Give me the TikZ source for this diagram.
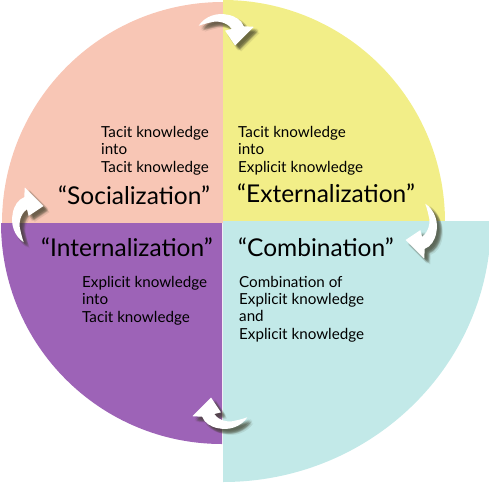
\documentclass[tikz,border=0pt]{standalone}
\usepackage{fontspec}
\setmainfont{Lato}

\definecolor{socialc}{RGB}{248,198,181}
\definecolor{externc}{RGB}{242,238,136}
\definecolor{combic}{RGB}{194,233,232}
\definecolor{internc}{RGB}{157,99,183}
\definecolor{shadowc}{RGB}{60,60,40}

% curved white arrow with a soft shadow: screen x, screen y, rotation
\newcommand\spinarrow[3]{%
  \foreach \dx/\dy in {2/2,3/3,4/4,5/5,3/5,5/3,4/2,2/4,4/5,5/4,6/6}{%
    \pic[fill=shadowc, fill opacity=0.11, rotate=#3, scale=1.1] at (#1+\dx,-#2-\dy) {turnarrow};
  }
  \pic[fill=white, rotate=#3, scale=1.1] at (#1,-#2) {turnarrow};
}

\begin{document}
\begin{tikzpicture}[x=1pt,y=1pt,
  small/.style={anchor=base west, inner sep=0pt, font=\fontsize{15.2}{18}\selectfont, text=black},
  title/.style={anchor=base west, inner sep=0pt, font=\fontsize{24.5}{28}\selectfont, text=black},
  turnarrow/.pic={
    \path[pic actions] (-23,3) .. controls (-17,12) and (-6,15) .. (3,13)
      .. controls (10,12) and (16,8) .. (18,2.5) -- (27,2) -- (10,-15) -- (1,-1.5) -- (7,0)
      .. controls (3,6) and (-6,8) .. (-12,6) .. controls (-17,5) and (-20,4) .. cycle;
  }]
\useasboundingbox (0,0) rectangle (489,-484);

% four quadrants
\fill[socialc] (223,-223) -- ++(-221,0) arc[start angle=180, end angle=90, radius=221] -- cycle;
\fill[externc] (223,-222) -- ++(0,222) arc[start angle=90, end angle=0, radius=222] -- cycle;
\fill[combic]  (223,-221) -- ++(268,0) arc[start angle=0, end angle=-90, x radius=268, y radius=261] -- cycle;
\fill[internc] (222,-223) -- ++(0,-221) arc[start angle=-90, end angle=-180, radius=221] -- cycle;

% Socialization
\node[small] (s1) at (101,-137) {Tacit knowledge};
\node[small] (s2) at (101,-154.5) {into};
\node[small] (s3) at (101,-172) {Tacit knowledge};
\node[title] (st) at (58,-204) {“Socialization”};

% Externalization
\node[small] (e1) at (238,-137) {Tacit knowledge};
\node[small] (e2) at (238,-154.5) {into};
\node[small] (e3) at (238,-172) {Explicit knowledge};
\node[title] (et) at (237,-202) {“Externalization”};

% Internalization
\node[title] (it) at (41,-256) {“Internalization”};
\node[small] (i1) at (82,-287) {Explicit knowledge};
\node[small] (i2) at (82,-304.5) {into};
\node[small] (i3) at (82,-322) {Tacit knowledge};

% Combination
\node[title] (ct) at (238,-256) {“Combination”};
\node[small] (c1) at (239,-287) {Combination of};
\node[small] (c2) at (239,-304.5) {Explicit knowledge};
\node[small] (c3) at (239,-321.5) {and};
\node[small] (c4) at (239,-339) {Explicit knowledge};

% turning arrows between the quadrants
\spinarrow{224}{29}{0}
\spinarrow{422}{229}{-90}
\spinarrow{222}{414}{180}
\spinarrow{27}{217}{90}
\end{tikzpicture}
\end{document}
